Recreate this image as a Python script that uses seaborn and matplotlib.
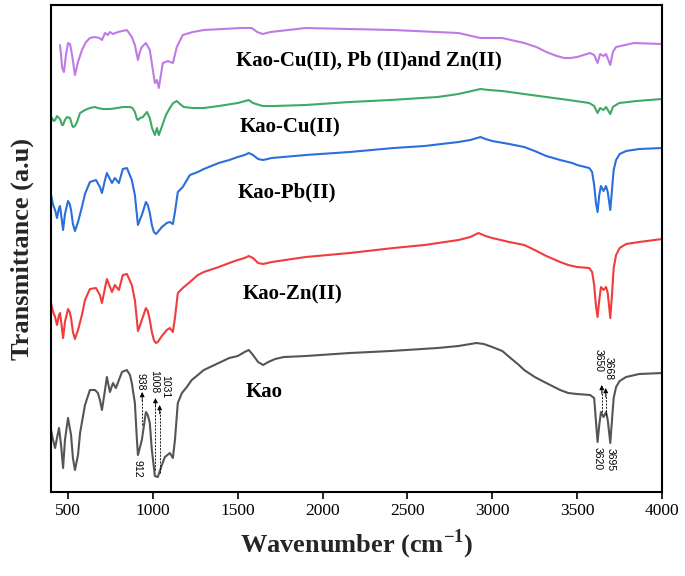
import matplotlib
matplotlib.use("Agg")
import matplotlib.pyplot as plt
import pandas as pd
import seaborn as sns

# FTIR spectra (wavenumber in cm-1, transmittance in arbitrary units)
kao_wn = [400, 412, 424, 435, 447, 459, 471, 482, 500, 518,
          529, 541, 559, 571, 600, 629, 659, 676, 688, 700,
          718, 729, 747, 765, 782, 800, 818, 847, 865, 876,
          894, 906, 912, 923, 935, 959, 970, 982, 994, 1012,
          1029, 1053, 1071, 1100, 1118, 1130, 1147, 1171, 1200, 1229,
          1265, 1300, 1350, 1400, 1450, 1500, 1540, 1565, 1590, 1620,
          1650, 1680, 1720, 1771, 1900, 2159, 2400, 2676, 2800, 2906,
          2950, 3000, 3059, 3100, 3150, 3188, 3250, 3318, 3400, 3447,
          3500, 3576, 3600, 3610, 3620, 3630, 3640, 3655, 3670, 3680,
          3695, 3705, 3715, 3729, 3750, 3788, 3865, 4000]
kao_t = [62, 52, 44, 54, 64, 47, 24, 52, 74, 57,
         34, 22, 37, 59, 87, 102, 102, 99, 92, 82,
         102, 115, 100, 109, 104, 112, 120, 122, 117, 109,
         89, 52, 37, 44, 52, 80, 77, 69, 42, 16,
         15, 27, 35, 39, 34, 52, 89, 99, 105, 112,
         117, 122, 126, 130, 134, 136, 140, 142, 137, 130,
         127, 130, 133, 135, 136, 139, 141, 144, 146, 149,
         148, 145, 141, 135, 128, 122, 115, 109, 102, 99,
         98, 97, 94, 72, 50, 67, 80, 75, 80, 72,
         49, 72, 94, 105, 111, 115, 118, 119]

zn_wn = [400, 412, 424, 435, 447, 453, 462, 471, 482, 500,
         510, 518, 529, 541, 559, 582, 600, 629, 665, 688,
         700, 718, 729, 759, 776, 800, 823, 847, 876, 894,
         906, 912, 923, 935, 959, 970, 982, 994, 1006, 1018,
         1029, 1053, 1082, 1100, 1118, 1130, 1147, 1176, 1218, 1265,
         1300, 1388, 1450, 1500, 1540, 1565, 1590, 1620, 1650, 1700,
         1900, 2159, 2418, 2600, 2800, 2870, 2918, 2960, 3000, 3100,
         3188, 3250, 3318, 3400, 3447, 3500, 3571, 3588, 3600, 3610,
         3620, 3630, 3640, 3655, 3670, 3680, 3695, 3705, 3715, 3729,
         3750, 3788, 3865, 4000]
zn_t = [189, 180, 175, 167, 177, 179, 167, 154, 170, 183,
        180, 174, 160, 153, 162, 177, 192, 203, 204, 197,
        189, 204, 213, 200, 207, 202, 217, 218, 207, 192,
        172, 161, 166, 172, 184, 181, 172, 160, 152, 149,
        150, 156, 162, 164, 160, 174, 199, 204, 210, 217,
        220, 225, 229, 232, 234, 236, 234, 229, 228, 230,
        235, 239, 244, 247, 252, 255, 259, 256, 254, 250,
        247, 242, 236, 230, 227, 225, 224, 220, 207, 187,
        175, 192, 205, 202, 205, 199, 174, 197, 224, 237,
        244, 248, 250, 253]

pb_wn = [400, 412, 424, 435, 447, 453, 462, 471, 482, 500,
         510, 518, 529, 541, 559, 582, 600, 629, 665, 688,
         700, 718, 729, 759, 776, 800, 823, 847, 876, 894,
         906, 912, 923, 935, 959, 970, 982, 994, 1006, 1018,
         1029, 1053, 1082, 1100, 1118, 1130, 1147, 1176, 1218, 1265,
         1300, 1388, 1450, 1500, 1540, 1565, 1590, 1620, 1650, 1700,
         1900, 2159, 2418, 2600, 2800, 2870, 2930, 2960, 3000, 3100,
         3188, 3250, 3318, 3400, 3447, 3471, 3500, 3571, 3588, 3600,
         3610, 3620, 3630, 3640, 3655, 3670, 3680, 3695, 3705, 3715,
         3729, 3750, 3788, 3865, 4000]
pb_t = [297, 287, 282, 274, 284, 286, 274, 262, 278, 291,
        288, 282, 268, 261, 270, 285, 298, 310, 312, 305,
        299, 312, 319, 309, 314, 309, 323, 324, 312, 297,
        277, 267, 272, 277, 290, 287, 279, 267, 260, 258,
        260, 265, 269, 270, 268, 280, 300, 305, 317, 320,
        323, 329, 332, 335, 337, 339, 337, 333, 332, 334,
        337, 340, 344, 346, 350, 352, 355, 353, 351, 348,
        345, 341, 336, 332, 330, 329, 327, 324, 320, 307,
        290, 280, 297, 306, 301, 306, 300, 282, 302, 322,
        332, 338, 341, 343, 344]

cu_wn = [406, 415, 424, 435, 441, 453, 465, 471, 482, 494,
         512, 522, 529, 541, 553, 571, 600, 629, 659, 676,
         706, 747, 790, 823, 865, 880, 894, 906, 912, 925,
         941, 965, 982, 995, 1012, 1024, 1035, 1050, 1077,
         1100, 1120, 1141, 1160, 1182, 1235, 1300, 1388, 1500, 1565,
         1590, 1647, 1712, 1900, 2159, 2400, 2676, 2800, 2930, 2980,
         3059, 3188, 3318, 3450, 3571, 3600, 3620, 3635, 3655, 3670,
         3695, 3710, 3747, 3850, 4000]
cu_t = [374, 371, 372, 376, 375, 373, 367, 367, 372, 375,
        374, 368, 365, 366, 370, 379, 382, 384, 385, 384,
        383, 383, 384, 385, 385, 384, 380, 373, 372, 374,
        375, 380, 374, 364, 357, 364, 357, 364, 377,
        384, 389, 391, 388, 385, 384, 384, 386, 389, 392,
        389, 386, 386, 387, 390, 392, 395, 398, 403, 402,
        401, 398, 395, 392, 389, 386, 379, 384, 382, 385,
        378, 385, 389, 391, 393]

mix_wn = [453, 459, 466, 476, 488, 500, 512, 524, 541, 559,
          582, 606, 629, 659, 685, 700, 718, 735, 747, 765,
          794, 847, 876, 894, 906, 912, 923, 935, 959, 982,
          1000, 1012, 1024, 1035, 1047, 1059, 1088, 1118, 1141, 1176,
          1235, 1300, 1518, 1582, 1615, 1647, 1694, 1900, 2418, 2800,
          2930, 3059, 3188, 3260, 3318, 3380, 3424, 3460, 3500, 3576,
          3600, 3620, 3635, 3655, 3670, 3695, 3710, 3729, 3835, 4000]
mix_t = [447, 437, 424, 420, 437, 449, 448, 437, 417, 430,
         442, 450, 454, 455, 454, 452, 459, 457, 460, 458,
         460, 462, 455, 447, 437, 432, 440, 445, 449, 442,
         422, 409, 412, 404, 417, 429, 431, 429, 445, 457,
         460, 462, 464, 464, 460, 458, 460, 464, 462, 459,
         454, 454, 449, 445, 440, 436, 434, 434, 435, 439,
         437, 429, 438, 436, 438, 427, 440, 445, 449, 448]

sample_names = ["Kao-Cu(II), Pb (II)and Zn(II)", "Kao-Cu(II)", "Kao-Pb(II)", "Kao-Zn(II)", "Kao"]
sample_colors = ["#BE7BE6", "#3DAA66", "#2A6FDC", "#F03C3C", "#555555"]
label_wn = [1488, 1512, 1500, 1529, 1547]
label_t = [432, 365, 300, 198, 100]

# band assignments marked on the Kao spectrum
bands_below = [912, 3620, 3695]
bands_above = [938, 1008, 1031, 3650, 3668]


def build_frame():
    parts = []
    for name, wn, t in zip(sample_names, [mix_wn, cu_wn, pb_wn, zn_wn, kao_wn],
                           [mix_t, cu_t, pb_t, zn_t, kao_t]):
        parts.append(pd.DataFrame({"wavenumber": wn, "transmittance": t, "sample": name}))
    return pd.concat(parts, ignore_index=True)


def mark_bands(ax):
    ann = dict(family=["Liberation Sans", "DejaVu Sans"], fontsize=7.5, rotation=-90,
               ha="center", color="black")
    # labels under the minima
    ax.text(bands_below[0], 32, str(bands_below[0]), va="top", **ann)
    ax.text(bands_below[1], 45, str(bands_below[1]), va="top", **ann)
    ax.text(bands_below[2] + 3, 44, str(bands_below[2]), va="top", **ann)

    # labels above with dashed arrows
    text_x = [928, 1006, 1075, 3625, 3688]
    text_y = [102, 99, 94, 120, 112]
    arrow_x = [937, 1015, 1040, 3645, 3668]
    arrow_lo = [67, 22, 19, 80, 77]
    arrow_hi = [100, 94, 87, 107, 104]
    for band, tx, ty, axx, lo, hi in zip(bands_above, text_x, text_y, arrow_x, arrow_lo, arrow_hi):
        ax.text(tx, ty, str(band), va="bottom", **ann)
        ax.plot([axx, axx], [lo, hi - 6], color="black", lw=0.6, ls=(0, (2.5, 1.5)))
        ax.annotate("", xy=(axx, hi), xytext=(axx, hi - 9),
                    arrowprops=dict(arrowstyle="-|>", color="black", lw=0.6,
                                    mutation_scale=7, shrinkA=0, shrinkB=0))


def main():
    sns.set_theme(style="ticks")
    plt.rcParams["font.family"] = ["Liberation Serif", "DejaVu Serif"]
    plt.rcParams["mathtext.fontset"] = "custom"
    plt.rcParams["mathtext.rm"] = "Liberation Serif:bold"
    plt.rcParams["mathtext.bf"] = "Liberation Serif:bold"

    df = build_frame()

    fig = plt.figure(figsize=(6.85, 5.76), dpi=100)
    ax = fig.add_axes([0.0745, 0.1458, 0.892, 0.8455])

    sns.lineplot(data=df, x="wavenumber", y="transmittance", hue="sample",
                 hue_order=sample_names, palette=sample_colors, sort=False,
                 linewidth=1.5, legend=False, ax=ax)

    for name, x, y in zip(sample_names, label_wn, label_t):
        ax.text(x, y, name, fontsize=15, fontweight="bold", ha="left", va="center", color="black")

    mark_bands(ax)

    ax.set_xlim(400, 4000)
    ax.set_ylim(0, 487)
    ax.set_xticks([500, 1000, 1500, 2000, 2500, 3000, 3500, 4000])
    ax.set_yticks([])
    ax.tick_params(axis="x", direction="out", length=5, width=1.2, labelsize=12.5,
                   colors="black", pad=3)
    for spine in ax.spines.values():
        spine.set_visible(True)
        spine.set_color("black")
        spine.set_linewidth(1.5)

    ax.set_xlabel(r"Wavenumber (cm$^{-1}$)", fontsize=19, fontweight="bold", labelpad=6)
    ax.set_ylabel("Transmittance (a.u)", fontsize=19, fontweight="bold", labelpad=12)

    fig.savefig("out.png", dpi=100)
    plt.close(fig)


if __name__ == "__main__":
    main()
